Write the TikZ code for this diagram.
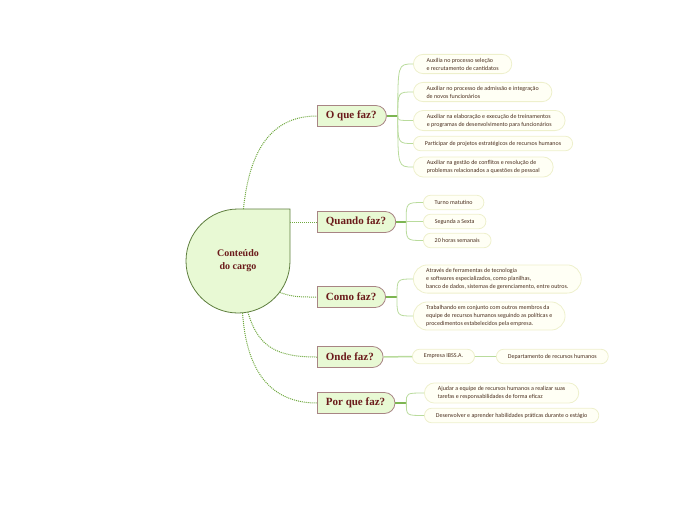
\documentclass[tikz,border=0pt]{standalone}
\usepackage{fontspec}
\setmainfont{Liberation Serif}
\newfontfamily\leaffont{Carlito}
\usepackage{tikz}
\usetikzlibrary{positioning, shapes.misc}
\definecolor{wine}{HTML}{6B1B1B}
\definecolor{leaftext}{HTML}{4A2E1E}
\definecolor{mint}{HTML}{E8F9D4}
\definecolor{rootborder}{HTML}{5E7E3E}
\definecolor{topicborder}{HTML}{A88484}
\definecolor{dots}{HTML}{6FA83F}
\definecolor{stem}{HTML}{7DB552}
\definecolor{twig}{HTML}{B9DB9C}
\definecolor{leafborder}{HTML}{EEF0CC}
\definecolor{leaffill}{HTML}{FFFFF5}

\begin{document}
\begin{tikzpicture}[x=1pt, y=-1pt,
  topic/.style={
    rounded rectangle, rounded rectangle left arc=none, draw=topicborder, fill=mint,
    line width=0.8pt, minimum height=21pt, inner xsep=8.5pt, text=wine,
    font=\bfseries\fontsize{11}{13}\selectfont, anchor=west,
  },
  leaf/.style={
    rounded rectangle, draw=leafborder, fill=leaffill, line width=0.8pt,
    inner xsep=11pt, inner ysep=3.5pt, minimum height=14.5pt, text=leaftext,
    font=\leaffont\fontsize{6}{8}\selectfont, align=left, anchor=west,
  },
  dotline/.style={dots, densely dotted, line width=1pt},
  stemline/.style={stem, line width=1.3pt},
  twigline/.style={twig, line width=0.8pt},
]
\useasboundingbox (0,0) rectangle (696,520);
\draw[rootborder, fill=mint, line width=0.8pt] (238,209) -- (290,209) -- (290,261)
  arc[start angle=0, end angle=270, radius=52] -- cycle;
\node[circle, minimum size=104pt, inner sep=0pt, text=wine, align=center,
  font=\bfseries\fontsize{10}{13}\selectfont] (root) at (238,261) {Conteúdo\\do cargo};

\node[topic] (oque) at (317,116) {O que faz?};
\node[topic] (quando) at (317,222) {Quando faz?};
\node[topic] (como) at (317,297) {Como faz?};
\node[topic] (onde) at (317,357) {Onde faz?};
\node[topic] (porque) at (317,403) {Por que faz?};

\draw[dotline] (root.84) .. controls +(6,-60) and +(-45,0) .. (oque.west);
\draw[dotline] (root.east |- quando.west) -- (quando.west);
\draw[dotline] (root.-37) .. controls +(14,5) and +(-15,0) .. (como.west);
\draw[dotline] (root.-79) .. controls +(10,35) and +(-40,0) .. (onde.west);
\draw[dotline] (root.-85) .. controls +(4,60) and +(-45,0) .. (porque.west);

\node[leaf] (aux1) at (413,64) {Auxilia no processo seleção\\e recrutamento de cantidatos};
\node[leaf] (aux2) at (413,92) {Auxiliar no processo de admissão e integração\\ de novos funcionários};
\node[leaf] (aux3) at (413,120.5) {Auxiliar na elaboração e execução de treinamentos\\ e programas de desenvolvimento para funcionários};
\node[leaf] (aux4) at (413,143.5) {Participar de projetos estratégicos de recursos humanos};
\node[leaf] (aux5) at (413,167) {Auxiliar na gestão de conflitos e resolução de\\problemas relacionados a questões de pessoal};
\coordinate (j1) at ([xshift=11pt]oque.east);
\draw[stemline] (oque.east) -- (j1);
\foreach \l in {aux1,aux2,aux3,aux4,aux5}
  \draw[twigline] (j1) .. controls (j1 |- \l.west) .. (\l.west);

\node[leaf] (turno) at (423,202.5) {Turno matutino};
\node[leaf] (dias) at (423,221.5) {Segunda a Sexta};
\node[leaf] (horas) at (423,240.5) {20 horas semanais};
\coordinate (j2) at ([xshift=10pt]quando.east);
\draw[stemline] (quando.east) -- (j2);
\foreach \l in {turno,dias,horas}
  \draw[twigline] (j2) .. controls (j2 |- \l.west) .. (\l.west);

\node[leaf, inner xsep=8pt] (tec) at (413,279) {Através de ferramentas de tecnologia\\e softwares especializados, como planilhas,\\banco de dados, sistemas de gerenciamento, entre outros.};
\node[leaf, inner xsep=8pt] (equipe) at (413,316) {Trabalhando em conjunto com outros membros da\\equipe de recursos humanos seguindo as políticas e\\ procedimentos estabelecidos pela empresa.};
\coordinate (j3) at ([xshift=11pt]como.east);
\draw[stemline] (como.east) -- (j3);
\foreach \l in {tec,equipe}
  \draw[twigline] (j3) .. controls (j3 |- \l.west) .. (\l.west);

\node[leaf] (emp) at (412,356.5) {Empresa IBSS.A.};
\node[leaf, right=21pt of emp] (dep) {Departamento de recursos humanos};
\draw[twigline, line width=1.5pt] (onde.east) -- (emp.west);
\draw[twigline, line width=1.5pt] (emp.east) -- (dep.west);

\node[leaf] (ajudar) at (424,393) {Ajudar a equipe de recursos humanos a realizar suas\\tarefas e responsabilidades de forma eficaz};
\node[leaf] (pratica) at (424,415.5) {Desenvolver e aprender habilidades práticas durante o estágio};
\coordinate (j4) at ([xshift=11pt]porque.east);
\draw[stemline] (porque.east) -- (j4);
\foreach \l in {ajudar,pratica}
  \draw[twigline] (j4) .. controls (j4 |- \l.west) .. (\l.west);
\end{tikzpicture}
\end{document}
